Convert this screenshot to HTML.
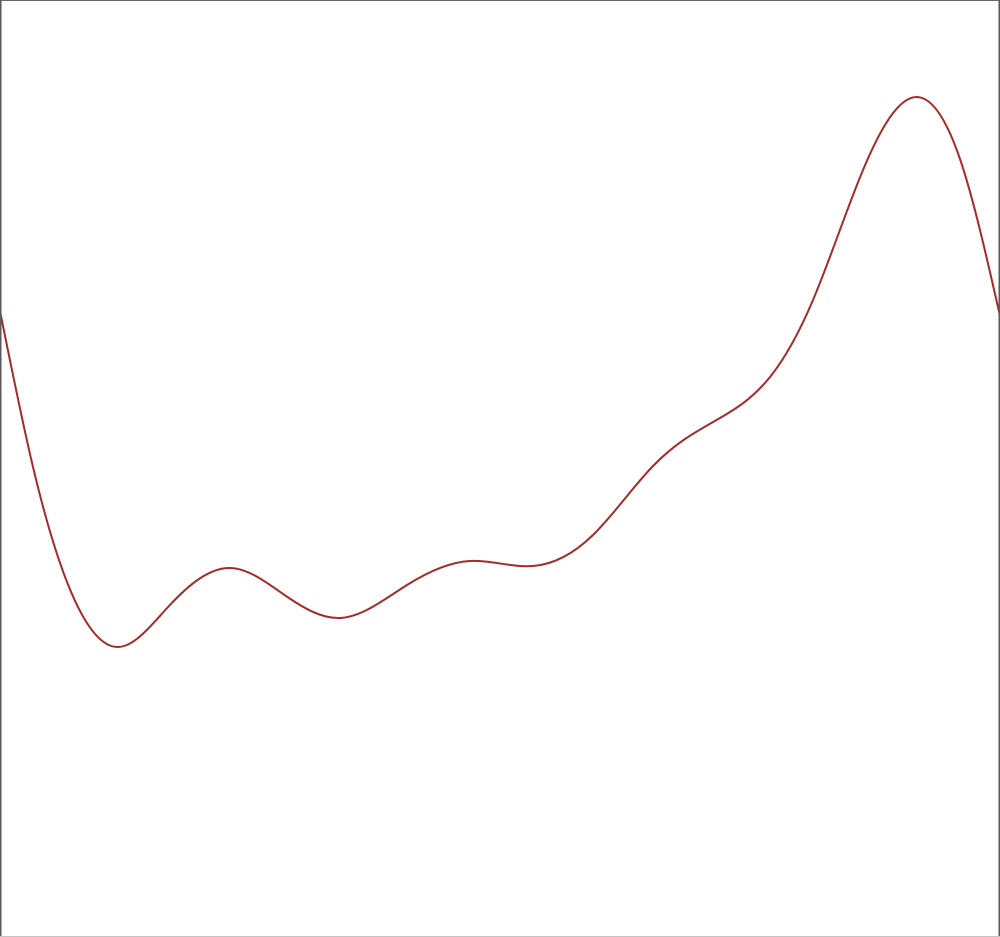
<!DOCTYPE html>
<html lang="en">
<head>
<meta charset="utf-8">
<title>Smooth line chart</title>
<style>
  html, body { margin: 0; padding: 0; background: #fff; }
  #chart { display: block; width: 1000px; height: 937px; }
</style>
</head>
<body>
<svg id="chart" xmlns="http://www.w3.org/2000/svg" width="1000" height="937" viewBox="0 0 1000 937">
  <rect x="0" y="0" width="1000" height="937" fill="#ffffff"></rect>
  <path id="series" fill="none" stroke="#a52a2a" stroke-width="2" stroke-linejoin="round"></path>
  <rect x="0" y="0" width="1000" height="1" fill="#666666"></rect>
  <rect x="0" y="0" width="1.5" height="937" fill="#5a5a5a"></rect>
  <rect x="998.5" y="0" width="1.5" height="937" fill="#5a5a5a"></rect>
  <rect x="0" y="936" width="1000" height="1" fill="#c4c4c4"></rect>
</svg>
<script>
const xValues = [0, 3.3, 6.7, 11.8, 16.8, 23.1, 28.6, 33.9, 40.7, 47.0, 53.3, 59.3, 65.3, 68.5, 72.0, 77.0, 81.3, 86.3, 91.7, 96.1, 100];
const seriesValues = [62.6, 47.0, 35.5, 29.0, 33.0, 36.9, 34.1, 31.9, 35.2, 37.6, 37.1, 40.2, 47.1, 49.8, 51.9, 56.0, 63.7, 76.7, 84.0, 77.5, 62.1];

const width = 1000;
const height = 937;
const xDomainMax = 100;
const yDomainMax = 93.7;

function xScale(v) { return v / xDomainMax * width; }
function yScale(v) { return height - v / yDomainMax * height; }

function splineSlopes(px, py) {
  const n = px.length;
  const h = [];
  for (let i = 0; i < n - 1; i++) h.push(px[i + 1] - px[i]);
  const a = new Array(n).fill(0);
  const b = new Array(n).fill(0);
  const c = new Array(n).fill(0);
  const r = new Array(n).fill(0);
  b[0] = 2; c[0] = 1; r[0] = 3 * (py[1] - py[0]) / h[0];
  for (let i = 1; i < n - 1; i++) {
    a[i] = h[i];
    b[i] = 2 * (h[i - 1] + h[i]);
    c[i] = h[i - 1];
    r[i] = 3 * (h[i] * (py[i] - py[i - 1]) / h[i - 1] + h[i - 1] * (py[i + 1] - py[i]) / h[i]);
  }
  a[n - 1] = 1; b[n - 1] = 2; r[n - 1] = 3 * (py[n - 1] - py[n - 2]) / h[n - 2];
  for (let i = 1; i < n; i++) {
    const w = a[i] / b[i - 1];
    b[i] -= w * c[i - 1];
    r[i] -= w * r[i - 1];
  }
  const m = new Array(n).fill(0);
  m[n - 1] = r[n - 1] / b[n - 1];
  for (let i = n - 2; i >= 0; i--) m[i] = (r[i] - c[i] * m[i + 1]) / b[i];
  return m;
}

function smoothPath(xs, ys) {
  const px = xs.map(xScale);
  const py = ys.map(yScale);
  const m = splineSlopes(px, py);
  let d = 'M' + px[0].toFixed(2) + ',' + py[0].toFixed(2);
  for (let i = 0; i < px.length - 1; i++) {
    const h = (px[i + 1] - px[i]) / 3;
    d += 'C' + (px[i] + h).toFixed(2) + ',' + (py[i] + m[i] * h).toFixed(2) +
         ' ' + (px[i + 1] - h).toFixed(2) + ',' + (py[i + 1] - m[i + 1] * h).toFixed(2) +
         ' ' + px[i + 1].toFixed(2) + ',' + py[i + 1].toFixed(2);
  }
  return d;
}

document.getElementById('series').setAttribute('d', smoothPath(xValues, seriesValues));
</script>
</body>
</html>
